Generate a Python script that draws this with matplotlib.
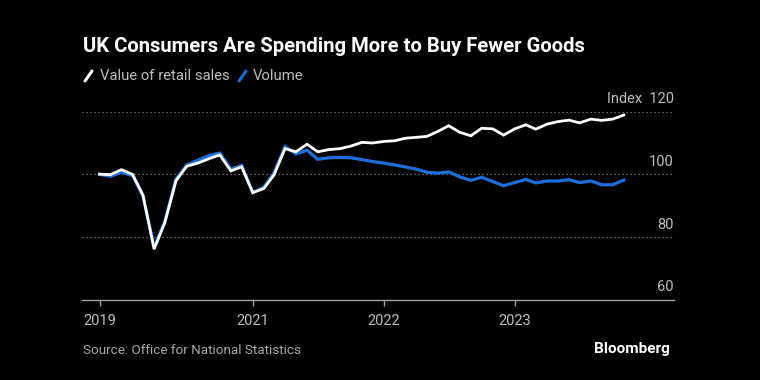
import matplotlib

matplotlib.use("Agg")

import matplotlib.pyplot as plt
import pandas as pd
from matplotlib.lines import Line2D

months = pd.date_range("2019-11-01", periods=49, freq="MS")

value_sales = [
    100.1, 99.9, 101.5, 100.0, 93.4, 76.2, 84.7, 98.0, 102.6, 103.6,
    105.0, 106.2, 101.1, 102.4, 94.2, 95.5, 99.8, 108.2, 107.2, 109.6,
    107.2, 107.9, 108.2, 109.0, 110.2, 110.0, 110.5, 110.7, 111.5, 111.8,
    112.1, 113.7, 115.5, 113.4, 112.3, 114.7, 114.5, 112.5, 114.5, 115.8,
    114.4, 116.0, 116.8, 117.3, 116.4, 117.6, 117.2, 117.6, 118.9,
]
volume_sales = [
    100.0, 99.4, 100.7, 99.6, 93.0, 76.8, 85.2, 98.5, 103.0, 104.5,
    106.0, 106.8, 101.7, 102.9, 94.2, 96.0, 100.4, 108.9, 106.5, 107.7,
    104.8, 105.3, 105.4, 105.3, 104.7, 104.1, 103.6, 103.0, 102.4, 101.7,
    100.7, 100.4, 100.8, 99.2, 98.1, 99.1, 97.7, 96.4, 97.4, 98.4,
    97.3, 97.9, 97.9, 98.3, 97.4, 97.9, 96.7, 96.7, 98.2,
]

tick_dates = pd.to_datetime(["2019-11-01", "2021-01-01", "2022-01-01", "2023-01-01"])
tick_labels = ["2019", "2021", "2022", "2023"]
y_grid = [80, 100, 120]

BG = "#000000"
BLUE = "#1c6fdb"
GREY = "#bdbdbd"

plt.rcParams["font.family"] = ["Roboto", "DejaVu Sans"]

W, H = 760, 380
fig = plt.figure(figsize=(W / 100, H / 100), dpi=100, facecolor=BG)

# axes box in pixels: x 82..674, y (from top) 100..300
ax = fig.add_axes([82 / W, 1 - 300 / H, (674 - 82) / W, 200 / H])
ax.set_facecolor(BG)

ax.plot(months, volume_sales, color=BLUE, linewidth=2.3, solid_joinstyle="miter", zorder=3)
ax.plot(months, value_sales, color="white", linewidth=2.0, solid_joinstyle="miter", zorder=4)

ax.set_xlim(pd.Timestamp("2019-09-13"), pd.Timestamp("2024-03-20"))
ax.set_ylim(60, 60 + 200 / 3.14)

for g in y_grid:
    ax.axhline(g, color="#8a8a8a", linewidth=0.9, linestyle=(0, (1, 2.2)), zorder=1)

for spine in ["top", "right", "left"]:
    ax.spines[spine].set_visible(False)
ax.spines["bottom"].set_color("#a0a0a0")
ax.spines["bottom"].set_linewidth(1.0)

ax.set_yticks([])
ax.set_xticks(tick_dates)
ax.set_xticklabels(tick_labels)
ax.tick_params(axis="x", colors="#a0a0a0", length=4, width=1, pad=6,
               labelcolor=GREY, labelsize=10.5)

# value labels at the right end, above each line
for v in [60] + y_grid:
    label = f"Index  {v}" if v == 120 else f"{v}"
    ax.annotate(label, xy=(1.0, v), xycoords=("axes fraction", "data"),
                xytext=(0, 4), textcoords="offset points",
                ha="right", va="bottom", color=GREY, fontsize=10.5)

fig.text(83 / W, 1 - 47 / H, "UK Consumers Are Spending More to Buy Fewer Goods",
         color="white", fontsize=14.6, fontweight="bold", va="center", ha="left")

# legend
ly = 1 - 76 / H
fig.add_artist(Line2D([85 / W, 92 / W], [ly - 5 / H, ly + 5 / H], color="white",
                      linewidth=2.2, solid_capstyle="round", transform=fig.transFigure))
fig.text(100 / W, ly, "Value of retail sales", color=GREY, fontsize=10.7, va="center", ha="left")
fig.add_artist(Line2D([239 / W, 246 / W], [ly - 5 / H, ly + 5 / H], color=BLUE,
                      linewidth=2.2, solid_capstyle="round", transform=fig.transFigure))
fig.text(253 / W, ly, "Volume", color=GREY, fontsize=10.7, va="center", ha="left")

fig.text(83 / W, 1 - 351 / H, "Source: Office for National Statistics",
         color="#a8a8a8", fontsize=9.7, va="center", ha="left")
fig.text(670 / W, 1 - 349 / H, "Bloomberg", color="white", fontsize=11,
         fontweight="bold", va="center", ha="right")

fig.savefig("out.png", dpi=100, facecolor=BG)
